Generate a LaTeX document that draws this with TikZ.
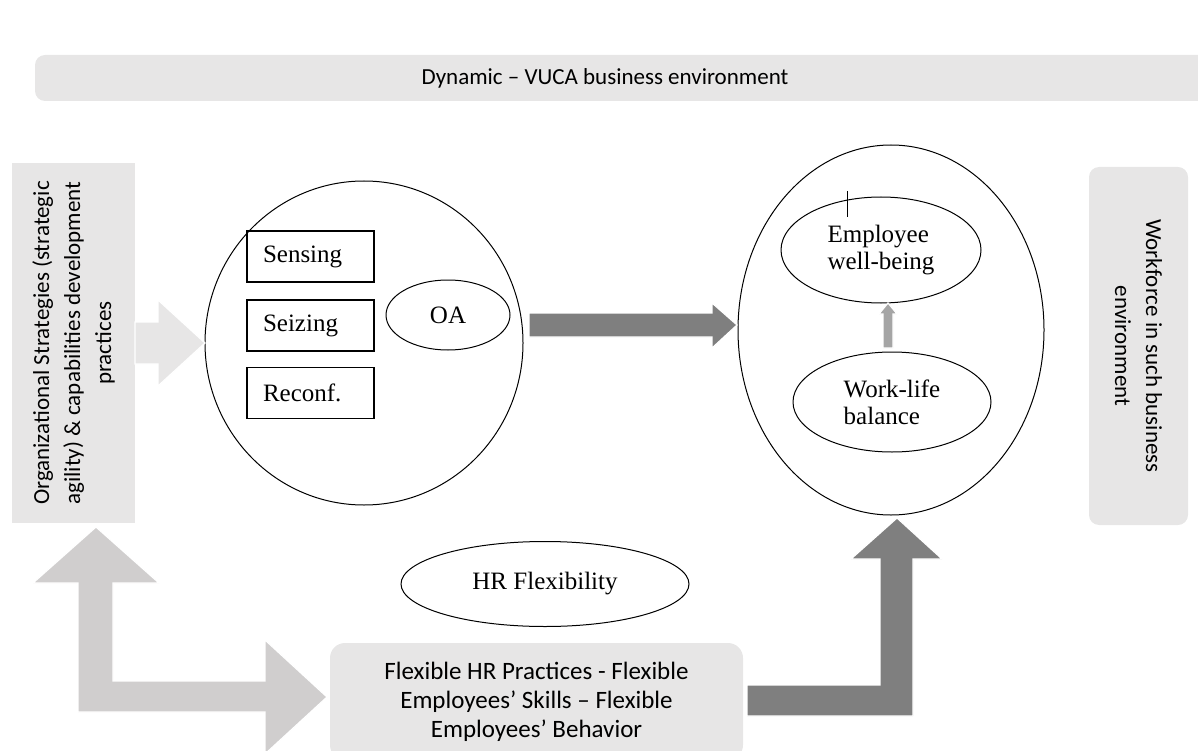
\documentclass[tikz,border=0pt]{standalone}
\usepackage{fontspec}
\usetikzlibrary{shapes.geometric}
\newfontfamily\calibri{Carlito}
\newfontfamily\tnr{Liberation Serif}
\definecolor{boxgray}{HTML}{E7E6E6}
\definecolor{lgarrow}{HTML}{D0CECE}
\definecolor{dkarrow}{HTML}{7F7F7F}
\definecolor{mdarrow}{HTML}{A5A5A5}
\begin{document}
\begin{tikzpicture}[x=1pt,y=-1pt,
  graybox/.style={fill=boxgray, draw=none, inner sep=0pt},
  calfont/.style={font=\calibri\fontsize{23}{31}\selectfont},
  tnrfont/.style={font=\tnr\fontsize{25}{27}\selectfont},
  stagebox/.style={draw=black, line width=1.2pt, minimum width=127pt, minimum height=51pt,
     inner xsep=16pt, inner ysep=0pt, text width=95pt, align=left, tnrfont},
  oval/.style={ellipse, draw=black, line width=1pt, inner sep=0pt, tnrfont, align=left},
  blockarrow/.style={draw=white, line width=1.2pt}
]
\useasboundingbox (0,0) rectangle (1198,751);

% environment banner
\node[graybox, rounded corners=10pt, minimum width=1180pt, minimum height=46pt] (env) at (625,78) {};
\node[calfont] (envtext) at (605,78) {Dynamic – VUCA business environment};

% left box
\node[graybox, rotate=90, minimum width=360pt, minimum height=123pt, align=center, calfont]
  (org) at (73.5,343) {Organizational Strategies (strategic\\agility) \& capabilities development\\practices};

% right box
\node[graybox, rounded corners=10pt, rotate=-90, minimum width=358pt, minimum height=99pt, align=center, calfont]
  (wf) at (1138.5,346) {Workforce in such business\\environment};

% bottom box
\node[graybox, rounded corners=15pt, minimum width=413pt, minimum height=117pt, align=center,
  font=\calibri\fontsize{25}{29}\selectfont]
  (hrp) at (536.5,701.5) {Flexible HR Practices - Flexible\\Employees’ Skills – Flexible\\Employees’ Behavior};

% ellipses
\node[oval, minimum width=318pt, minimum height=324pt] (oaring) at (364,343) {};
\node[oval, minimum width=306pt, minimum height=370pt] (wbring) at (891,330) {};
\node[oval, minimum width=124pt, minimum height=70pt] (oa) at (448,315) {OA};
\node[oval, minimum width=200pt, minimum height=106pt] (ewb) at (881,250) {Employee\\well-being};
\node[oval, minimum width=198pt, minimum height=100pt] (wlb) at (892,402) {Work-life\\balance};
\node[oval, minimum width=288pt, minimum height=85pt] (hrf) at (545,584) {HR Flexibility};

% capability boxes
\node[stagebox] (sense) at (310.5,256.5) {Sensing};
\node[stagebox] (seize) at (310.5,325.5) {Seizing};
\node[stagebox] (reconf) at (310.5,393) {Reconf.};

% small tick mark
\coordinate (tickA) at (847,191);
\coordinate (tickB) at (847,217);
\draw[line width=1pt] (tickA) -- (tickB);

% block arrows
\path[fill=boxgray, blockarrow] (135,322) -- (158,322) -- (158,300) -- (205,343) -- (158,386) -- (158,364) -- (135,364) -- cycle;
\path[fill=dkarrow, blockarrow] (529,313) -- (712,313) -- (712,303) -- (737,325) -- (712,348) -- (712,337) -- (529,337) -- cycle;
\path[fill=mdarrow, blockarrow] (883,348) -- (883,314) -- (879,314) -- (888,303) -- (897,314) -- (893,314) -- (893,348) -- cycle;
\path[fill=lgarrow, blockarrow] (78,712) -- (78,583) -- (33,583) -- (96,527) -- (159,583) -- (113,583) -- (113,681)
  -- (265,681) -- (265,640) -- (327,697) -- (265,754) -- (265,712) -- cycle;
\path[fill=dkarrow, blockarrow] (747,685) -- (880,685) -- (880,559) -- (851,559) -- (897,518) -- (942,559)
  -- (913,559) -- (913,716) -- (747,716) -- cycle;
\end{tikzpicture}
\end{document}
